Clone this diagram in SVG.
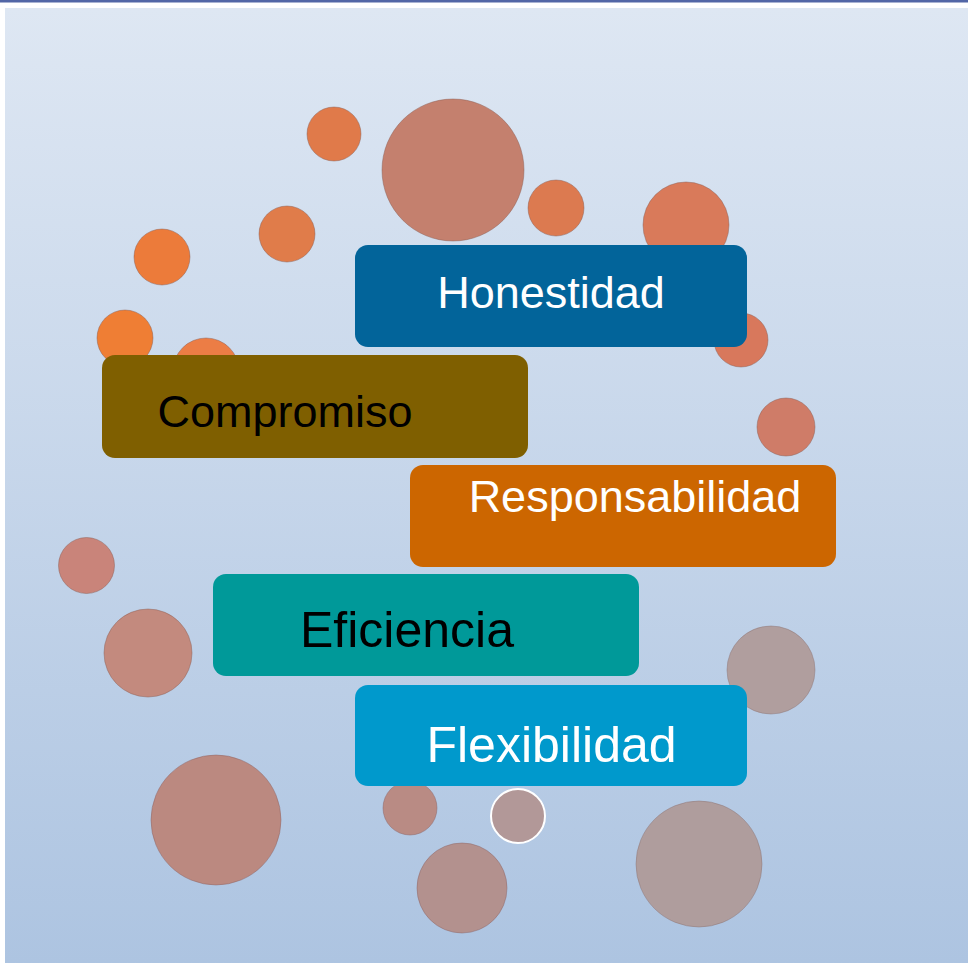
<svg xmlns="http://www.w3.org/2000/svg" width="968" height="963" viewBox="0 0 968 963">
  <defs>
    <linearGradient id="bg" x1="0" y1="0" x2="0" y2="1">
      <stop offset="0" stop-color="#dee7f3"/>
      <stop offset="1" stop-color="#adc4e1"/>
    </linearGradient>
  </defs>
  <style>
    .dot { stroke-width: 1; stroke-opacity: 0.45; }
    .box { stroke: none; }
    .lbl { font-family: "Liberation Sans", Arial, sans-serif; text-anchor: middle; }
    .w { fill: #ffffff; }
    .k { fill: #000000; }
  </style>
  <rect x="0" y="0" width="968" height="963" fill="#ffffff"/>
  <rect x="5" y="8" width="963" height="955" fill="url(#bg)"/>
  <rect x="0" y="0" width="968" height="2.5" fill="#5266a6"/>

  <g id="circles">
    <circle class="dot" cx="334" cy="134" r="27" fill="#e07a4a" stroke="#8a5a50"/>
    <circle class="dot" cx="453" cy="170" r="71" fill="#c4806e" stroke="#8a5a50"/>
    <circle class="dot" cx="556" cy="208" r="28" fill="#dc7a50" stroke="#8a5a50"/>
    <circle class="dot" cx="686" cy="225" r="43" fill="#d97a5a" stroke="#8a5a50"/>
    <circle class="dot" cx="287" cy="234" r="28" fill="#e07c4a" stroke="#8a5a50"/>
    <circle class="dot" cx="162" cy="257" r="28" fill="#ec7b3a" stroke="#8a5a50"/>
    <circle class="dot" cx="125" cy="338" r="28" fill="#ef7e34" stroke="#8a5a50"/>
    <circle class="dot" cx="206" cy="371" r="33" fill="#ec7d45" stroke="#8a5a50"/>
    <circle class="dot" cx="741" cy="340" r="27" fill="#d8785c" stroke="#8a5a50"/>
    <circle class="dot" cx="786" cy="427" r="29" fill="#cf7c68" stroke="#8a5a50"/>
    <circle class="dot" cx="86.5" cy="565.5" r="28" fill="#c9847a" stroke="#8a5a50"/>
    <circle class="dot" cx="148" cy="653" r="44" fill="#c38a7e" stroke="#8a5a50"/>
    <circle class="dot" cx="771" cy="670" r="44" fill="#b09e9e" stroke="#8a7070"/>
    <circle class="dot" cx="216" cy="820" r="65" fill="#bb8980" stroke="#8a6060"/>
    <circle class="dot" cx="410" cy="808" r="27" fill="#b98b84" stroke="#8a6060"/>
    <circle cx="518" cy="816" r="27" fill="#b29898" stroke="#ffffff" stroke-width="2"/>
    <circle class="dot" cx="462" cy="888" r="45" fill="#b3918e" stroke="#8a6060"/>
    <circle class="dot" cx="699" cy="864" r="63" fill="#af9d9d" stroke="#8a7070"/>
  </g>

  <g id="honestidad">
    <rect class="box" x="355" y="245" width="392" height="102" rx="13" fill="#02649a"/>
    <text class="lbl w" x="551" y="308" font-size="45">Honestidad</text>
  </g>
  <g id="compromiso">
    <rect class="box" x="102" y="355" width="426" height="103" rx="13" fill="#7f5f00"/>
    <text class="lbl k" x="285" y="427" font-size="45">Compromiso</text>
  </g>
  <g id="responsabilidad">
    <rect class="box" x="410" y="465" width="426" height="102" rx="13" fill="#cc6600"/>
    <text class="lbl w" x="635" y="512" font-size="45">Responsabilidad</text>
  </g>
  <g id="eficiencia">
    <rect class="box" x="213" y="574" width="426" height="102" rx="13" fill="#009999"/>
    <text class="lbl k" x="407" y="647" font-size="50">Eficiencia</text>
  </g>
  <g id="flexibilidad">
    <rect class="box" x="355" y="685" width="392" height="101" rx="13" fill="#0099cc"/>
    <text class="lbl w" x="551.5" y="762" font-size="50">Flexibilidad</text>
  </g>
  <g id="connectors"/>
</svg>
